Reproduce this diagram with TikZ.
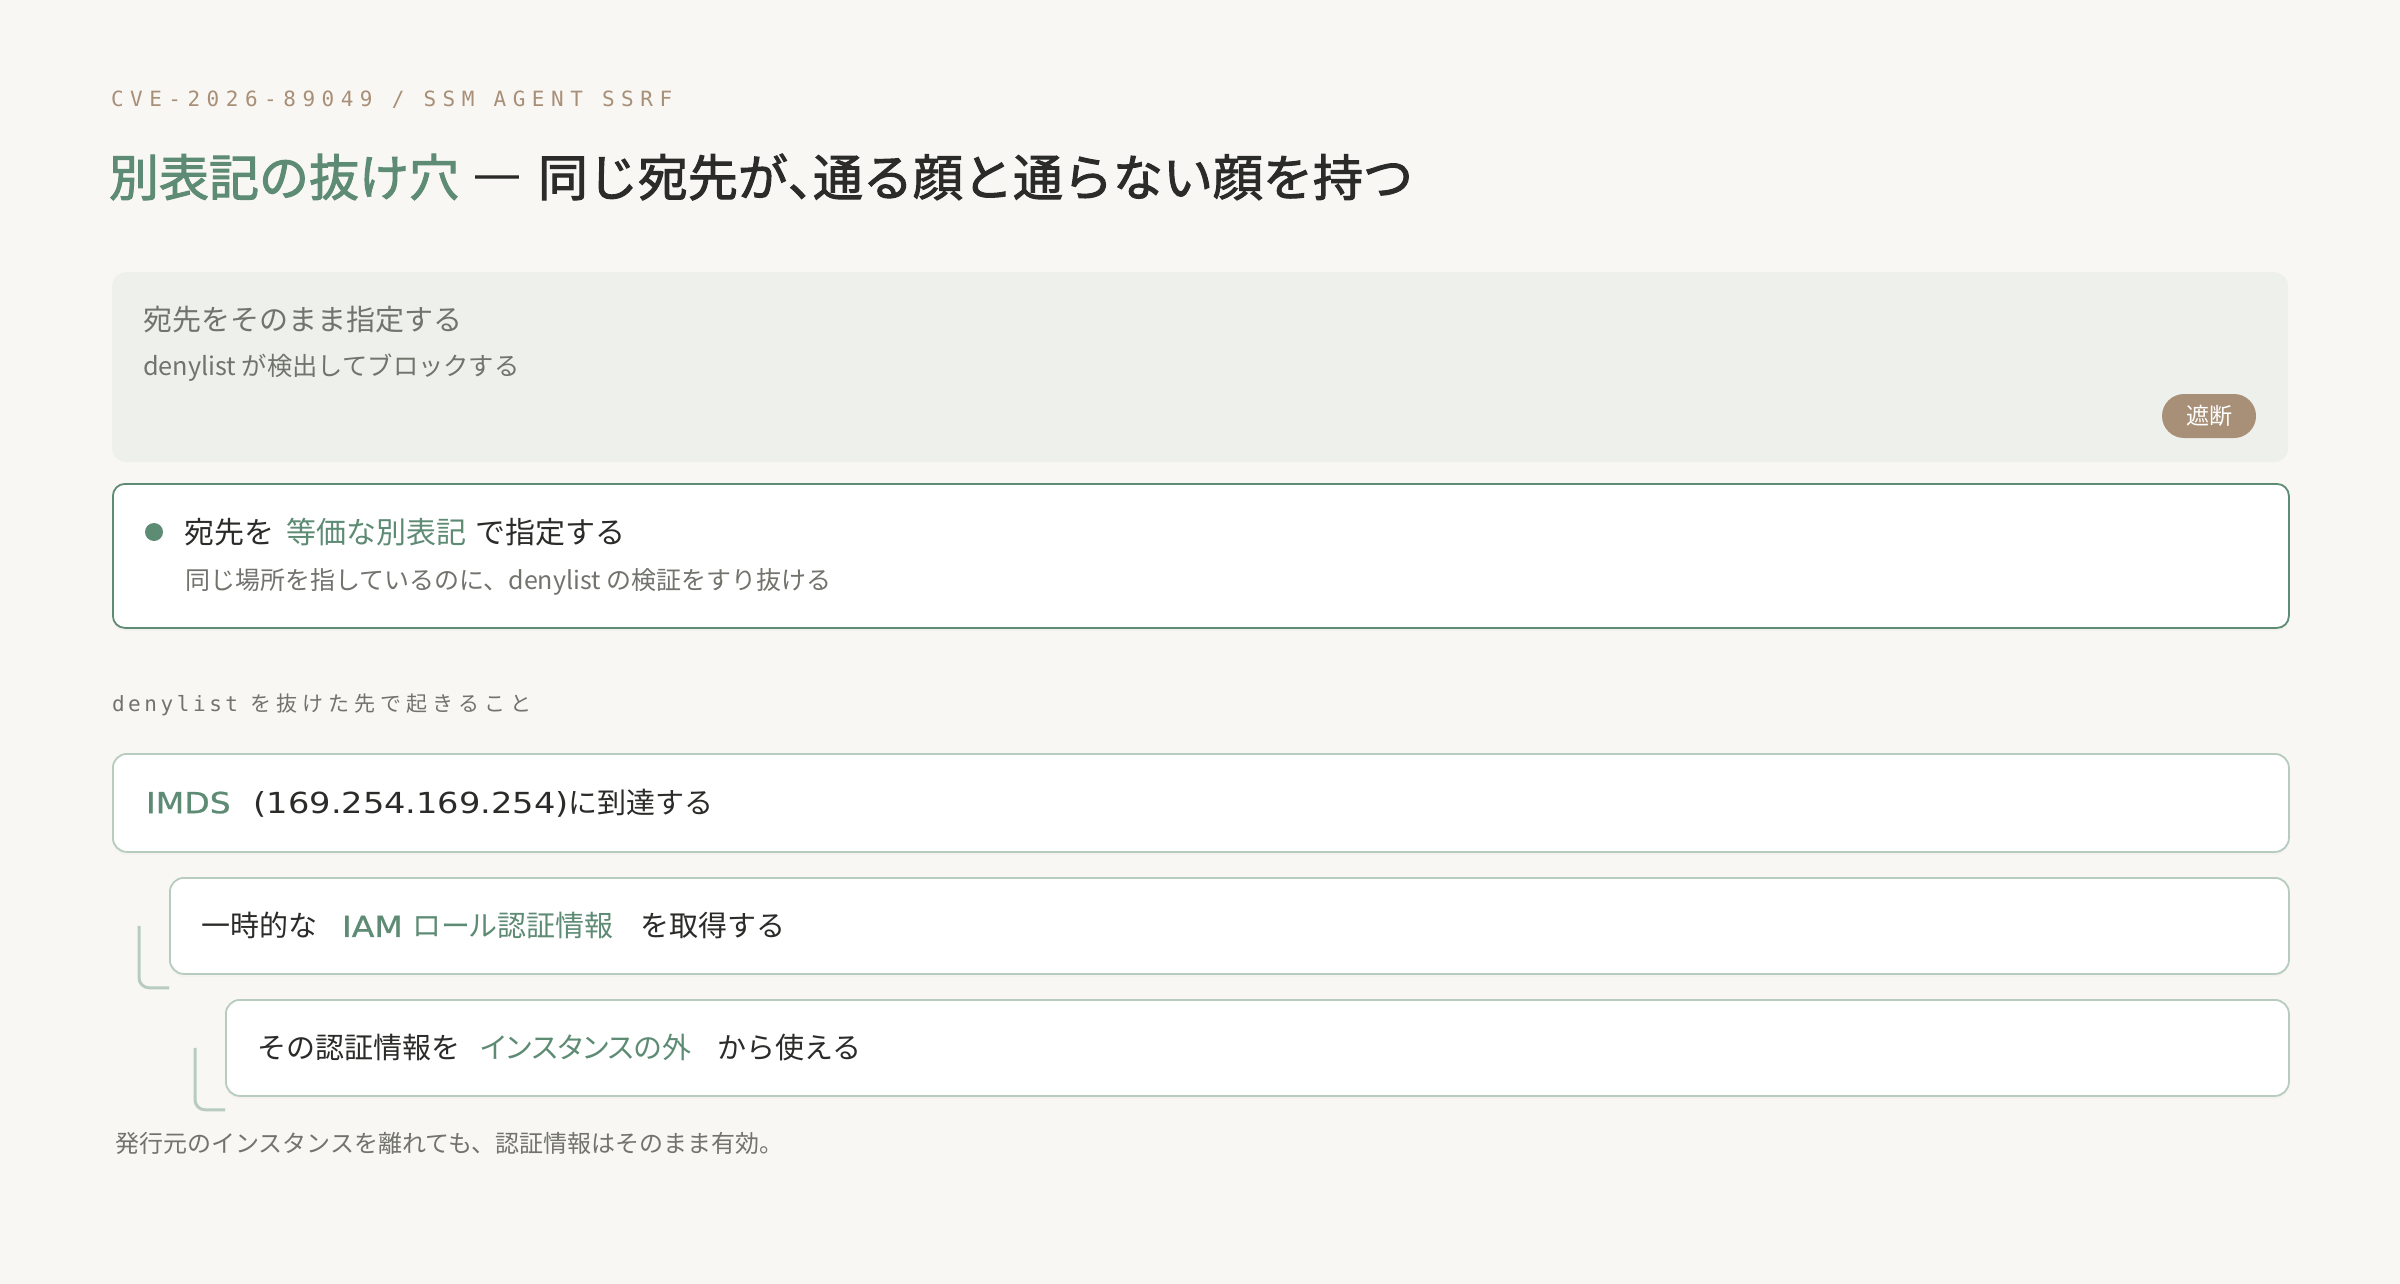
\documentclass[tikz,border=0pt]{standalone}
\usepackage{fontspec}
\setmainfont{Noto Sans CJK JP}
\newfontfamily\titlefont{Noto Sans CJK JP}[FakeBold=2]
\newfontfamily\grnkana{Noto Sans CJK JP}[CharacterWidth=AlternateProportional]
\newfontfamily\latgrn{DejaVu Sans}[FakeStretch=1.14, FakeBold=0.8]
\newfontfamily\latwide{DejaVu Sans}[FakeStretch=1.16]
\newfontfamily\cvefont{DejaVu Sans Mono}[LetterSpace=31]
\newfontfamily\lblmono{DejaVu Sans Mono}[LetterSpace=17]
\newfontfamily\lblcjk{Noto Sans CJK JP}[LetterSpace=24]
\usetikzlibrary{calc,shadows}
\definecolor{bg}{HTML}{F8F7F3}
\definecolor{grayfill}{HTML}{EEF0EB}
\definecolor{accent}{HTML}{5E8B74}
\definecolor{tan}{HTML}{A88F77}
\definecolor{ink}{HTML}{2B2B29}
\definecolor{muted}{HTML}{72736D}
\definecolor{soft}{HTML}{B7CCBF}
\newcommand\fsz[1]{\fontsize{#1pt}{#1pt}\selectfont}
\tikzset{
  txt/.style={inner sep=0pt, outer sep=0pt, anchor=west},
  panel/.style={rectangle, anchor=north west, inner sep=0pt},
  grayband/.style={panel, fill=grayfill, rounded corners=14pt},
  focusbox/.style={panel, fill=white, draw=accent, line width=1.8pt, rounded corners=12pt,
    drop shadow={opacity=0.05, shadow xshift=0pt, shadow yshift=-3pt}},
  stepbox/.style={panel, fill=white, draw=soft, line width=1.8pt, rounded corners=14pt,
    drop shadow={opacity=0.04, shadow xshift=0pt, shadow yshift=-3pt}},
  badge/.style={fill=tan, text=white, rounded corners=22pt, minimum width=94pt, minimum height=44pt, inner sep=0pt},
  bracket/.style={draw=soft, line width=3pt, rounded corners=10pt},
}
\begin{document}
\begin{tikzpicture}[x=1pt,y=-1pt]
\fill[bg] (0,0) rectangle (2400,1284);
\useasboundingbox (0,0) rectangle (2400,1284);

% header
\node[txt, text=tan] (cve) at (111,100) {\cvefont\fsz{21}CVE-2026-89049 / SSM AGENT SSRF};
\node[txt] (title) at (109,177) {\titlefont\fsz{50}\textcolor{accent}{別表記の抜け穴}\hspace{13pt}\textcolor{ink}{{\addfontfeature{CharacterWidth=Full}—}\hspace{16pt}同じ宛先が\makebox[0.5em][l]{、}通る顔と通らない顔を持つ}};

% blocked band
\node[grayband, minimum width=2176pt, minimum height=190pt] (band) at (112,272) {};
\node[txt, text=muted] (bandhead) at (143,320) {\fsz{29}宛先をそのまま指定する};
\node[txt, text=muted] (bandsub) at (143,368) {\fsz{25.3}denylist が検出してブロックする};
\node[badge] (block) at (2209,416) {\fsz{23}遮断};

% bypass box
\node[focusbox, minimum width=2176pt, minimum height=144pt] (focus) at (112,483) {};
\fill[accent] (154,532) circle (9pt);
\node[txt, text=ink] (focushead) at (184,532) {\fsz{30}宛先を\hspace{12pt}\textcolor{accent}{等価な別表記}\hspace{9pt}で指定する};
\node[txt, text=muted] (focussub) at (185,582) {\fsz{25}同じ場所を指しているのに、denylist の検証をすり抜ける};

% section label
\node[txt, text=muted] (seclabel) at (112,705) {\fsz{21}{\lblmono denylist}\hspace{12pt}{\lblcjk を抜けた先で起きること}};

% consequence chain
\node[stepbox, minimum width=2176pt, minimum height=98pt] (s1) at (112,753) {};
\node[stepbox, minimum width=2119pt, minimum height=96pt] (s2) at (169,877) {};
\node[stepbox, minimum width=2063pt, minimum height=96pt] (s3) at (225,999) {};

\node[txt, text=ink] (s1t) at ($(s1.west)+(34,0)$) {\fsz{29}\textcolor{accent}{\latgrn IMDS}\hspace{23pt}{\latwide (169.254.169.254)}に到達する};
\node[txt, text=ink] (s2t) at ($(s2.west)+(32,0)$) {\fsz{29}一時的な\hspace{25pt}\textcolor{accent}{{\latgrn IAM }{\grnkana ロール認証情報}}\hspace{27pt}を取得する};
\node[txt, text=ink] (s3t) at ($(s3.west)+(32,0)$) {\fsz{29}その認証情報を\hspace{21pt}\textcolor{accent}{\grnkana インスタンスの外}\hspace{26pt}から使える};

\draw[bracket] ($(s2.west)+(-30,0)$) |- ($(s2.south west)+(0,13)$);
\draw[bracket] ($(s3.west)+(-30,0)$) |- ($(s3.south west)+(0,13)$);

\node[txt, text=muted] (foot) at (115,1143) {\fsz{24}発行元のインスタンスを離れても、認証情報はそのまま有効。};
\end{tikzpicture}
\end{document}
